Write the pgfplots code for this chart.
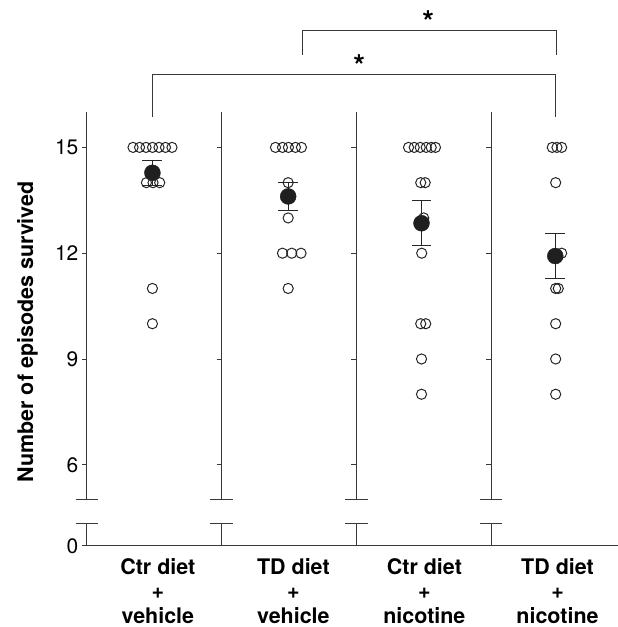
\documentclass[border=0pt]{standalone}
\usepackage{pgfplots}
\pgfplotsset{compat=1.18}
\usepackage{fontspec}
\setmainfont{TeX Gyre Heros}
\definecolor{linecol}{gray}{0.22}
\begin{document}
\begin{tikzpicture}
\begin{axis}[
  x=135pt, y=35.33pt,
  xmin=0.5, xmax=4.44, ymin=3.7, ymax=18.8,
  clip=false,
  axis line style={draw=none},
  ytick pos=left, xtick pos=bottom,
  tick align=outside,
  major tick length=5pt,
  ytick style={draw=linecol, line width=0.9pt},
  xtick style={draw=none},
  ytick={3.7,6,9,12,15},
  yticklabels={0,6,9,12,15},
  yticklabel style={font=\fontsize{21}{24}\selectfont},
  xtick={1.027,2.033,3.005,3.993},
  xticklabels={{Ctr diet\\+\\vehicle},{TD diet\\+\\vehicle},{Ctr diet\\+\\nicotine},{TD diet\\+\\nicotine}},
  xticklabel style={font=\bfseries\fontsize{21.5}{24.8}\selectfont, align=center, inner sep=1pt, yshift=-6pt},
  unbounded coords=jump,
]
% group separators with axis breaks
\addplot[linecol, line width=0.9pt, no marks] coordinates {
 (0.5,5.03) (0.5,16) (nan,nan)
 (1.5,5.03) (1.5,16) (nan,nan)
 (2.5,5.03) (2.5,16) (nan,nan)
 (3.5,5.03) (3.5,16) (nan,nan)
 (0.5,3.7) (0.5,4.35) (nan,nan)
 (1.5,3.7) (1.5,4.35) (nan,nan)
 (2.5,3.7) (2.5,4.35) (nan,nan)
 (3.5,3.7) (3.5,4.35) (nan,nan)
 (0.417,5.03) (0.583,5.03) (nan,nan)
 (1.417,5.03) (1.583,5.03) (nan,nan)
 (2.417,5.03) (2.583,5.03) (nan,nan)
 (3.417,5.03) (3.583,5.03) (nan,nan)
 (0.417,4.35) (0.583,4.35) (nan,nan)
 (1.417,4.35) (1.583,4.35) (nan,nan)
 (2.417,4.35) (2.583,4.35) (nan,nan)
 (3.417,4.35) (3.583,4.35) (nan,nan)
 (0.5,3.7) (4.44,3.7) (nan,nan)
};
% inner tick marks
\addplot[linecol, line width=0.9pt, no marks] coordinates {
 (1.463,6) (1.5,6) (nan,nan) (1.463,9) (1.5,9) (nan,nan) (1.463,12) (1.5,12) (nan,nan) (1.463,15) (1.5,15) (nan,nan)
 (2.463,6) (2.5,6) (nan,nan) (2.463,9) (2.5,9) (nan,nan) (2.463,12) (2.5,12) (nan,nan) (2.463,15) (2.5,15) (nan,nan)
 (3.463,6) (3.5,6) (nan,nan) (3.463,9) (3.5,9) (nan,nan) (3.463,12) (3.5,12) (nan,nan) (3.463,15) (3.5,15) (nan,nan)
};
% significance brackets
\addplot[linecol, line width=0.9pt, no marks] coordinates {
 (0.987,15.87) (0.987,17.07) (3.979,17.07) (3.979,15.87)
};
\addplot[linecol, line width=0.9pt, no marks] coordinates {
 (2.1,17.62) (2.1,18.31) (3.987,18.31) (3.987,17.62)
};
\node[anchor=base, font=\bfseries\fontsize{30}{30}\selectfont] at (axis cs:3.033,18.25) {*};
\node[anchor=base, font=\bfseries\fontsize{30}{30}\selectfont] at (axis cs:2.522,17.01) {*};
% individual animals
\addplot[only marks, mark=o, mark size=5.1pt, mark options={draw=black!85, line width=1pt}] coordinates {
 (0.8430,15) (0.8911,15) (0.9393,15) (0.9874,15) (1.0356,15) (1.0837,15) (1.1319,15)
 (0.9422,14) (0.9911,14) (1.0407,14)
 (0.9867,11) (0.9867,10)
 (1.9000,15) (1.9519,15) (1.9963,15) (2.0481,15) (2.0926,15)
 (1.9941,14) (1.9941,13)
 (1.9519,12) (2.0207,12) (2.0896,12)
 (1.9941,11)
 (2.8874,15) (2.9296,15) (2.9741,15) (3.0185,15) (3.0556,15) (3.0874,15)
 (2.9778,14) (3.0111,14)
 (3.0000,13)
 (2.9852,12)
 (2.9778,10) (3.0148,10)
 (2.9837,9) (2.9837,8)
 (3.9541,15) (3.9889,15) (4.0237,15)
 (3.9793,14)
 (4.0237,12)
 (3.9793,11) (3.9985,11)
 (3.9793,10) (3.9793,9) (3.9793,8)
};
% SEM
\addplot[only marks, mark=none,
  error bars/.cd, y dir=both, y explicit,
  error bar style={draw=black!85, line width=1pt},
  error mark options={rotate=90, mark size=10pt, draw=black!85, line width=1pt}]
 coordinates {
 (0.9867,14.28) +- (0,0.35)
 (1.9941,13.61) +- (0,0.39)
 (2.9837,12.85) +- (0,0.64)
 (3.9763,11.92) +- (0,0.64)
};
% means
\addplot[only marks, mark=*, mark size=8pt, mark options={fill=black!88, draw=black!88}] coordinates {
 (0.9867,14.28) (1.9941,13.61) (2.9837,12.85) (3.9763,11.92)
};
\node[rotate=90, anchor=base, font=\bfseries\fontsize{21.5}{24}\selectfont] at (axis cs:0.102,9.77) {Number of episodes survived};
\coordinate (tl) at (axis cs:-0.1444,19.18);
\coordinate (br) at (axis cs:4.44,1.40);
\end{axis}
\pgfresetboundingbox
\path[use as bounding box] (tl) rectangle (br);
\end{tikzpicture}
\end{document}
